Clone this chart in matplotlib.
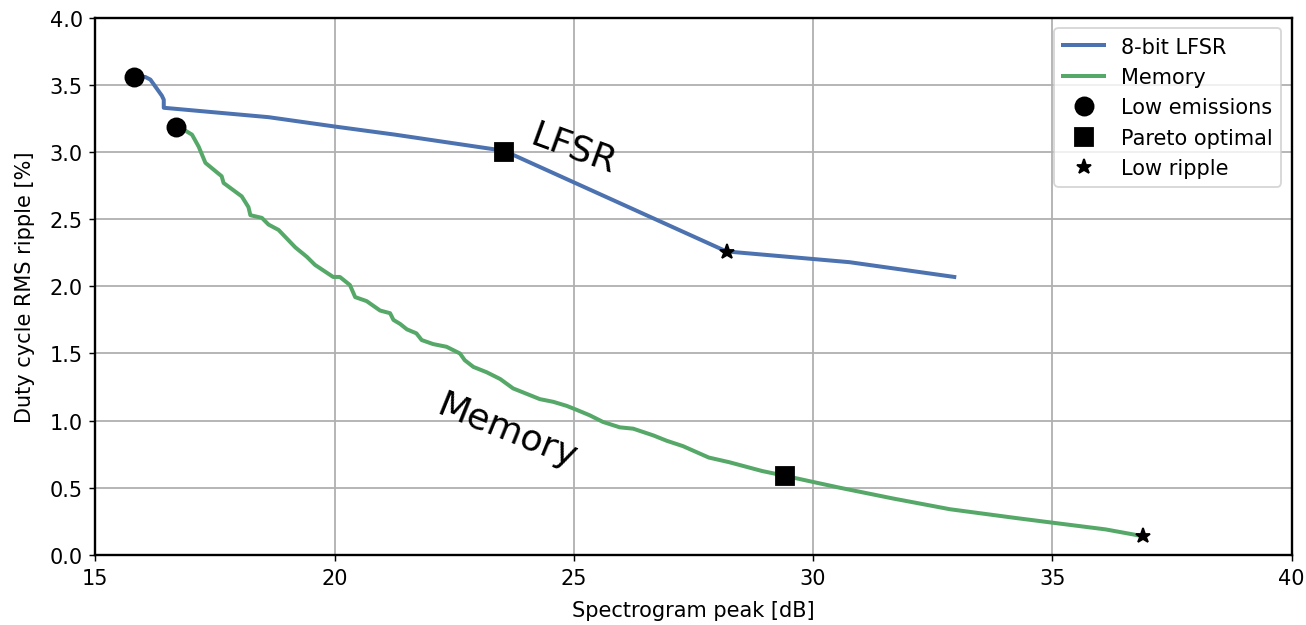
import numpy as np
import matplotlib
matplotlib.use("Agg")
import matplotlib.pyplot as plt

# 8-bit LFSR front
lfsr_x = [15.80, 16.04, 16.15, 16.29, 16.39, 16.43, 16.43, 18.62, 20.01, 21.26, 23.54,
          28.19, 30.76, 32.95]
lfsr_y = [3.56, 3.56, 3.54, 3.47, 3.42, 3.39, 3.33, 3.26, 3.19, 3.13, 3.01,
          2.26, 2.18, 2.07]

# Memory front
mem_x = [16.69, 17.02, 17.16, 17.30, 17.47, 17.64, 17.68, 18.06, 18.20, 18.24, 18.48,
         18.62, 18.83, 19.18, 19.42, 19.59, 19.97, 20.11, 20.32, 20.43, 20.67, 20.95,
         21.16, 21.23, 21.37, 21.51, 21.71, 21.82, 22.06, 22.34, 22.62, 22.72, 22.90,
         23.18, 23.46, 23.73, 24.01, 24.29, 24.57, 24.85, 25.06, 25.33, 25.61, 25.96,
         26.24, 26.66, 26.94, 27.28, 27.82, 28.25, 28.93, 29.40, 30.04, 30.56, 31.67,
         32.86, 34.23, 35.00, 36.11, 36.88]
mem_y = [3.20, 3.13, 3.04, 2.92, 2.87, 2.82, 2.77, 2.67, 2.59, 2.53, 2.51,
         2.46, 2.42, 2.29, 2.22, 2.16, 2.07, 2.07, 2.01, 1.92, 1.89, 1.82,
         1.80, 1.75, 1.72, 1.68, 1.65, 1.60, 1.57, 1.55, 1.50, 1.45, 1.40,
         1.36, 1.31, 1.24, 1.20, 1.16, 1.14, 1.11, 1.08, 1.04, 0.99, 0.95,
         0.94, 0.89, 0.85, 0.81, 0.725, 0.69, 0.625, 0.59, 0.54, 0.50, 0.42,
         0.34, 0.275, 0.24, 0.19, 0.14]

# highlighted points: low emissions, pareto optimal, low ripple
low_em_x = [15.80, 16.69]
low_em_y = [3.56, 3.19]
pareto_x = [23.54, 29.42]
pareto_y = [3.00, 0.585]
low_rip_x = [28.19, 36.90]
low_rip_y = [2.255, 0.14]

blue = '#4C72B0'
green = '#55A868'

plt.rcParams['font.size'] = 11.5

fig = plt.figure(figsize=(10.0, 4.793), dpi=130.6)
ax = fig.add_axes([0.073, 0.112, 0.916, 0.858])

ax.plot(lfsr_x, lfsr_y, color=blue, lw=2.2, label='8-bit LFSR')
ax.plot(mem_x, mem_y, color=green, lw=2.2, label='Memory')
ax.plot(low_em_x, low_em_y, 'o', color='black', ms=10, ls='none', label='Low emissions')
ax.plot(pareto_x, pareto_y, 's', color='black', ms=9.5, ls='none', label='Pareto optimal')
ax.plot(low_rip_x, low_rip_y, '*', color='black', ms=8.5, ls='none', label='Low ripple')

ax.text(25.0, 3.03, 'LFSR', fontsize=20, rotation=-20, ha='center', va='center')
ax.text(23.6, 0.92, 'Memory', fontsize=20, rotation=-22, ha='center', va='center')

ax.set_xlim(15, 40)
ax.set_ylim(0, 4)
ax.set_xticks(np.arange(15, 41, 5))
ax.set_yticks(np.arange(0, 4.01, 0.5))
ax.grid(True, color='#b0b0b0', lw=1.0)
ax.set_axisbelow(True)
for s in ax.spines.values():
    s.set_linewidth(1.3)
ax.set_xlabel('Spectrogram peak [dB]', labelpad=7)
ax.set_ylabel('Duty cycle RMS ripple [%]', labelpad=8)
ax.legend(loc='upper right')

fig.savefig('out.png', dpi=130.6)
